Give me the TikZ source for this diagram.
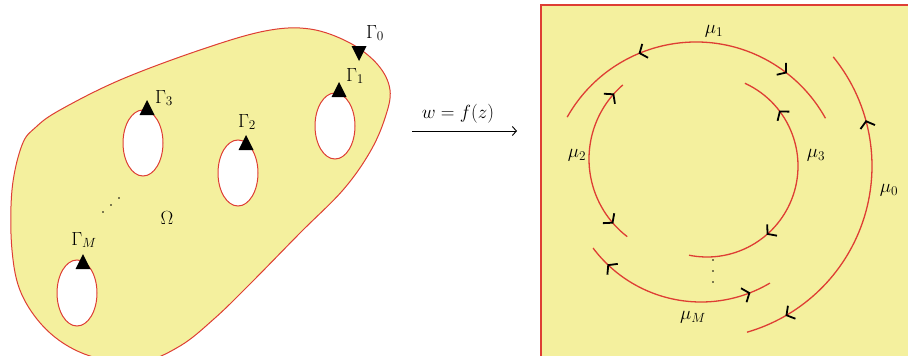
\RequirePackage{fix-cm}
\documentclass[tikz,border=0pt]{standalone}
\usetikzlibrary{arrows.meta,decorations.markings}
\definecolor{pale}{RGB}{244,240,158}
\definecolor{edge}{RGB}{222,62,52}
\tikzset{
  lbl/.style={inner sep=0pt,font=\fontsize{19}{23}\selectfont},
  curve/.style={draw=edge,line width=1.3pt},
  barb/.style={black,line width=1.8pt},
  twomarks/.style 2 args={postaction={decorate},decoration={markings,
     mark=at position #1 with {\arrowreversed[barb]{Straight Barb[length=6pt,width=15pt]}},
     mark=at position #2 with {\arrow[barb]{Straight Barb[length=6pt,width=15pt]}}}},
  holeshape/.style={draw=edge,fill=white,line width=1pt},
  uptri/.pic={\fill[black] (0,-15) -- (7.5,0) -- (-7.5,0) -- cycle;},
  downtri/.pic={\fill[black] (0,15) -- (7.5,0) -- (-7.5,0) -- cycle;}
}
\begin{document}
\begin{tikzpicture}[x=1pt,y=-1pt]
\useasboundingbox (0,0) rectangle (908,356);
\clip (0,0) rectangle (908,356);
% left domain
\draw[draw=edge,fill=pale,line width=1pt] plot[smooth cycle,tension=0.6] coordinates {
 (22,145) (12,190) (12,250) (22,295) (50,333) (90,356) (140,362) (180,346)
 (215,318) (250,284) (300,233) (343,190) (370,152) (385,118) (390,90)
 (378,65) (350,43) (310,29) (265,31) (200,50) (120,80) (60,110) (36,127)};
% holes
\draw[holeshape] (335,126) ellipse [x radius=20, y radius=33];
\draw[holeshape] (143,143) ellipse [x radius=20, y radius=33];
\draw[holeshape] (238,173) ellipse [x radius=20, y radius=33];
\draw[holeshape] (77,293) ellipse [x radius=20, y radius=33];
% triangles
\pic at (339,97) {uptri};
\pic at (147,115) {uptri};
\pic at (246,150) {uptri};
\pic at (83,269) {uptri};
\pic at (359,46) {downtri};
% labels left
\node[lbl] (g0) at (375,33) {$\Gamma_0$};
\node[lbl] (g1) at (355,76) {$\Gamma_1$};
\node[lbl] (g3) at (164,98) {$\Gamma_3$};
\node[lbl] (g2) at (247,122) {$\Gamma_2$};
\node[lbl] (gm) at (84,240) {$\Gamma_M$};
\node[lbl] (om) at (167,218) {$\Omega$};
\foreach \p in {(103,212),(111,205),(119,198)} \fill \p circle (0.9);
% mapping arrow
\coordinate (as) at (412,131);
\coordinate (ae) at (517,131);
\draw[line width=0.9pt,-{Straight Barb[length=4pt,width=9pt]}] (as) -- (ae);
\node[lbl] (map) at (458,114) {$w = f(z)$};
% right box
\draw[draw=edge,fill=pale,line width=1.3pt] (541,5) rectangle (920,370);
% arcs
\draw[curve,twomarks={0.31}{0.81}] (696,190) ++(-150.5:148) arc[start angle=-150.5,end angle=-29,radius=148];
\draw[curve,twomarks={0.07}{0.89}] (687,159) ++(-130.9:98) arc[start angle=-130.9,end angle=-232.4,radius=98];
\draw[curve,twomarks={0.167}{0.686}] (707,166) ++(-65.4:91) arc[start angle=-65.4,end angle=101.4,radius=91];
\draw[curve,twomarks={0.11}{0.89}] (701,167) ++(-216.9:135) arc[start angle=-216.9,end angle=-300.7,radius=135];
\draw[curve,twomarks={0.21}{0.877}] (699,166) ++(-39.1:173) arc[start angle=-39.1,end angle=73.9,radius=173];
\foreach \p in {(713,260),(713,271),(713,282)} \fill \p circle (0.9);
% labels right
\node[lbl] (m1) at (714,31) {$\mu_1$};
\node[lbl] (m2) at (577,155) {$\mu_2$};
\node[lbl] (m3) at (816,155) {$\mu_3$};
\node[lbl] (m0) at (889,190) {$\mu_0$};
\node[lbl] (mm) at (693,317) {$\mu_M$};
\end{tikzpicture}
\end{document}
